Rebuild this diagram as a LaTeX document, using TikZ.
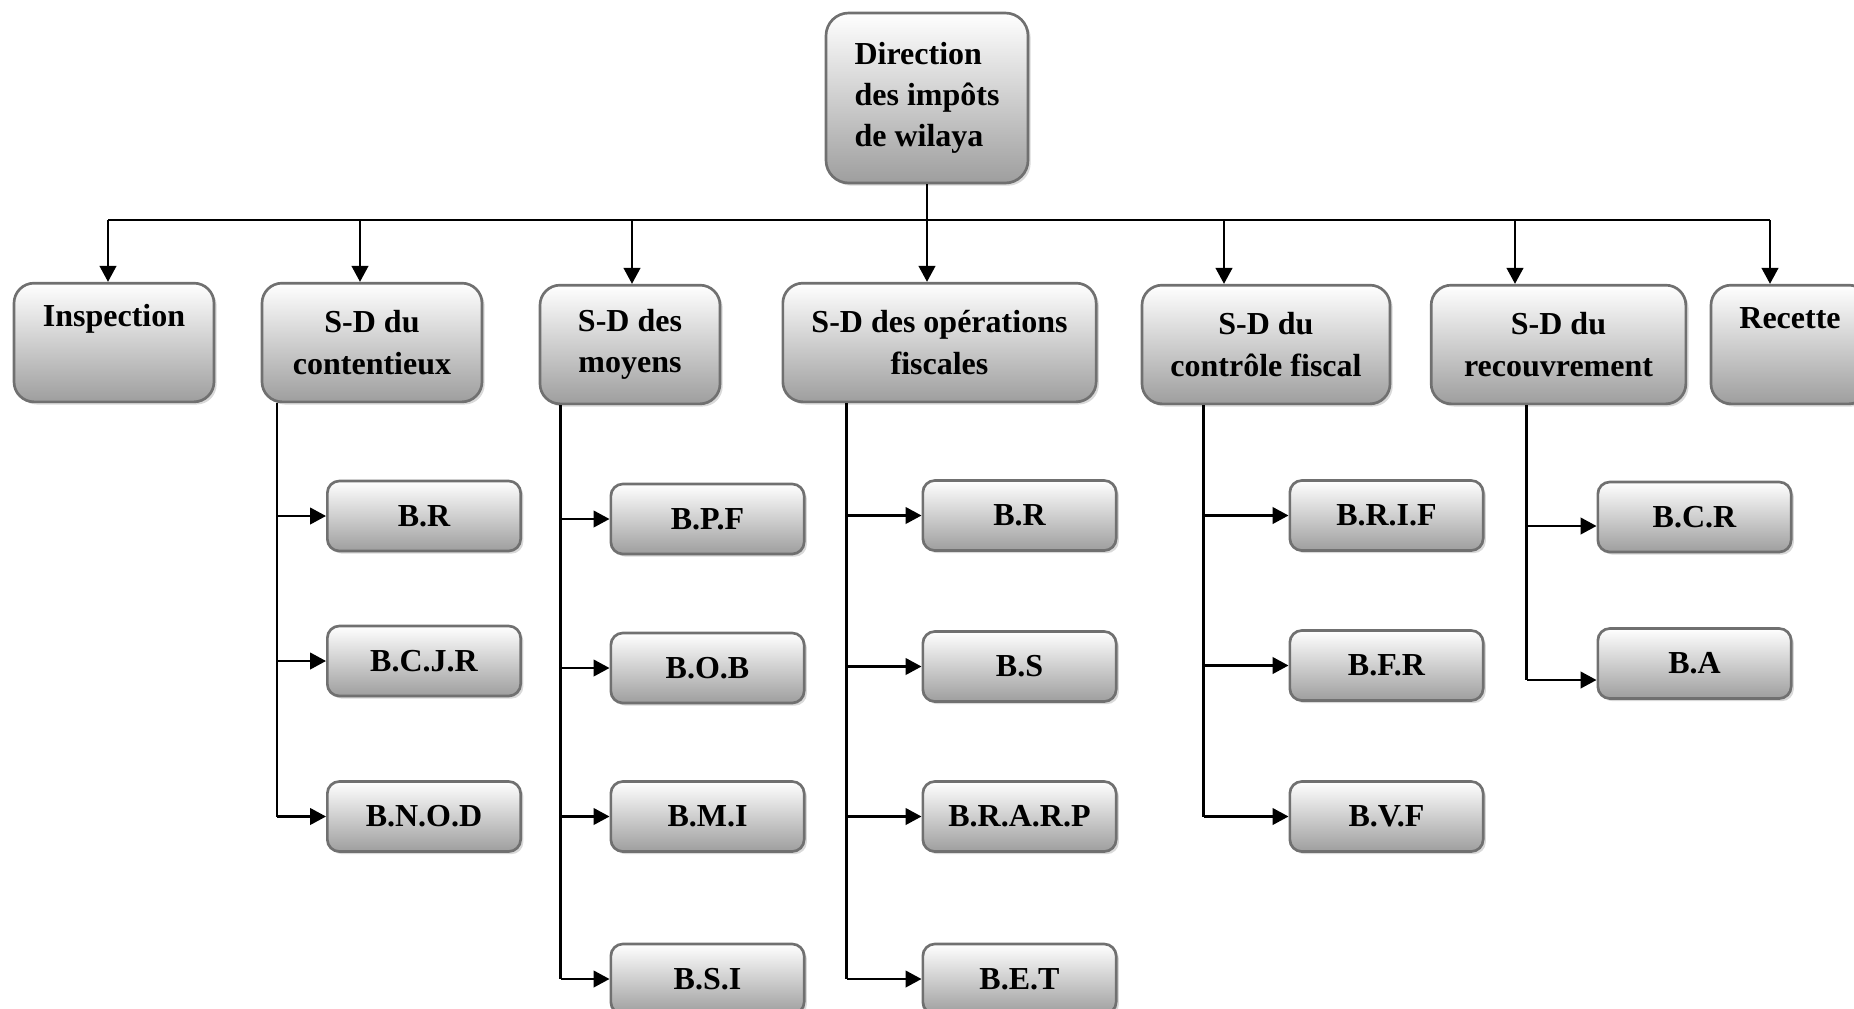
\documentclass[tikz,border=0pt]{standalone}
\usepackage{fontspec}
\setmainfont{Liberation Serif}
\usetikzlibrary{arrows.meta,shadows}

\definecolor{boxline}{RGB}{112,112,112}

\tikzset{every picture/.style={line width=0.75pt}}
\tikzset{
  box/.style={draw=boxline, line width=2pt, top color=white, bottom color=black!38,
    drop shadow={shadow xshift=2pt, shadow yshift=-2pt, opacity=0.3},
    font=\bfseries\fontsize{24}{31}\selectfont, align=center, inner sep=0pt},
  headbox/.style={box, rounded corners=17pt, minimum height=127.5pt},
  topbox/.style={box, rounded corners=15pt, minimum height=89pt},
  subbox/.style={box, rounded corners=9pt, minimum height=52.5pt, minimum width=145pt},
  link/.style={line width=1.7pt},
  arr/.style={link, -{Triangle[length=12pt,width=12.5pt]}}
}

\begin{document}
\begin{tikzpicture}[x=0.75pt,y=0.75pt,yscale=-1,xscale=1]
\useasboundingbox (0,0) rectangle (1854,1008);

% Head
\node [headbox, minimum width=151.5pt, align=left] (dir) at (927,98) {Direction\\des impôts\\de wilaya};

% Services
\node [topbox, minimum width=150pt] (insp) at (114,342.5) {Inspection\\\strut};
\node [topbox, minimum width=165pt] (cont) at (372,342.5) {S-D du\\contentieux};
\node [topbox, minimum width=135pt] (moy) at (630,344.5) {S-D des\\moyens};
\node [topbox, minimum width=235pt] (ops) at (939.5,342.5) {S-D des opérations\\fiscales};
\node [topbox, minimum width=186pt] (ctrl) at (1266,344.5) {S-D du\\contrôle fiscal};
\node [topbox, minimum width=191pt] (recv) at (1558.5,344.5) {S-D du\\recouvrement};
\node [topbox, minimum width=118.5pt] (rec) at (1790,344.5) {Recette\\\strut};

% Bureaux
\node [subbox] (br1) at (424,516) {B.R};
\node [subbox] (bcjr) at (424,661) {B.C.J.R};
\node [subbox] (bnod) at (424,816.5) {B.N.O.D};

\node [subbox] (bpf) at (707.5,519) {B.P.F};
\node [subbox] (bob) at (707.5,668) {B.O.B};
\node [subbox] (bmi) at (707.5,816.5) {B.M.I};
\node [subbox] (bsi) at (707.5,979) {B.S.I};

\node [subbox] (br2) at (1019.5,515.5) {B.R};
\node [subbox] (bs) at (1019.5,666.5) {B.S};
\node [subbox] (brarp) at (1019.5,816.5) {B.R.A.R.P};
\node [subbox] (bet) at (1019.5,979) {B.E.T};

\node [subbox] (brif) at (1386.5,515.5) {B.R.I.F};
\node [subbox] (bfr) at (1386.5,665.5) {B.F.R};
\node [subbox] (bvf) at (1386.5,816.5) {B.V.F};

\node [subbox] (bcr) at (1694.5,517) {B.C.R};
\node [subbox] (ba) at (1694.5,663.5) {B.A};

% Links from head
\coordinate (busL) at (108,220);
\coordinate (busR) at (1770,220);
\draw [link] (busL) -- (busR);
\draw [arr] (dir.south) -- (dir.south |- ops.north);
\foreach \x/\n in {108/insp,360/cont,632/moy,1224/ctrl,1515/recv,1770/rec}
  \draw [arr] (\x,220) -- (\x,220 |- \n.north);

% Links to bureaux
\draw [link] (277,0 |- cont.south) -- (277,0 |- bnod.west);
\foreach \n in {br1,bcjr,bnod}
  \draw [arr] (277,0 |- \n.west) -- (\n.west);

\draw [link] (560.5,0 |- moy.south) -- (560.5,0 |- bsi.west);
\foreach \n in {bpf,bob,bmi,bsi}
  \draw [arr] (560.5,0 |- \n.west) -- (\n.west);

\draw [link] (846.5,0 |- ops.south) -- (846.5,0 |- bet.west);
\foreach \n in {br2,bs,brarp,bet}
  \draw [arr] (846.5,0 |- \n.west) -- (\n.west);

\draw [link] (1203.5,0 |- ctrl.south) -- (1203.5,0 |- bvf.west);
\foreach \n in {brif,bfr,bvf}
  \draw [arr] (1203.5,0 |- \n.west) -- (\n.west);

\draw [link] (1526.5,0 |- recv.south) -- (1526.5,680);
\draw [arr] (1526.5,526) -- (1526.5,526 -| bcr.west);
\draw [arr] (1526.5,680) -- (1526.5,680 -| ba.west);

\end{tikzpicture}
\end{document}
